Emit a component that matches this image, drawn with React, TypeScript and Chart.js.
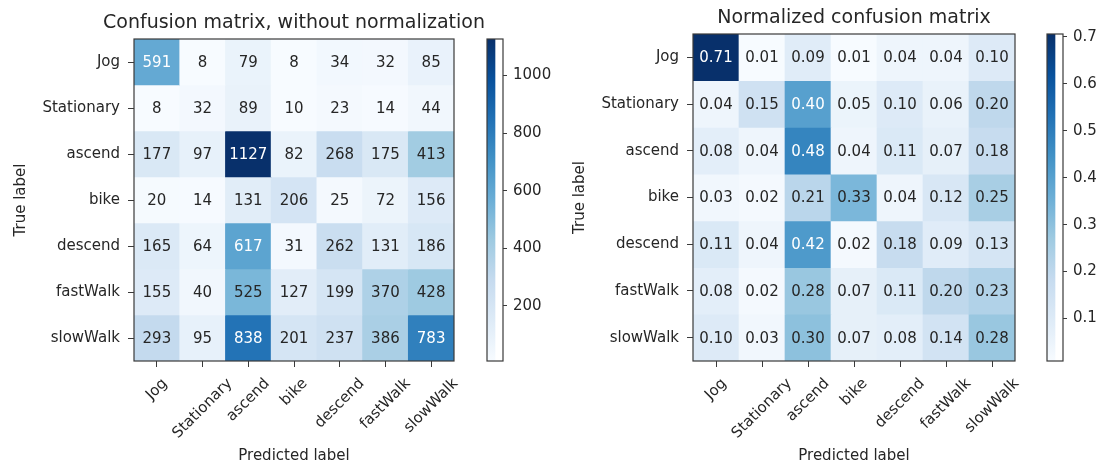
import React, { useEffect, useRef } from 'react';
import { Chart, registerables } from 'chart.js';

Chart.register(...registerables);
Chart.defaults.font.family = '"DejaVu Sans", Verdana, sans-serif';

const classLabels = ['Jog', 'Stationary', 'ascend', 'bike', 'descend', 'fastWalk', 'slowWalk'];

const countJog = [591, 8, 79, 8, 34, 32, 85];
const countStationary = [8, 32, 89, 10, 23, 14, 44];
const countAscend = [177, 97, 1127, 82, 268, 175, 413];
const countBike = [20, 14, 131, 206, 25, 72, 156];
const countDescend = [165, 64, 617, 31, 262, 131, 186];
const countFastWalk = [155, 40, 525, 127, 199, 370, 428];
const countSlowWalk = [293, 95, 838, 201, 237, 386, 783];
const countRows = [countJog, countStationary, countAscend, countBike, countDescend, countFastWalk, countSlowWalk];

const normJog = [0.71, 0.01, 0.09, 0.01, 0.04, 0.04, 0.1];
const normStationary = [0.04, 0.15, 0.4, 0.05, 0.1, 0.06, 0.2];
const normAscend = [0.08, 0.04, 0.48, 0.04, 0.11, 0.07, 0.18];
const normBike = [0.03, 0.02, 0.21, 0.33, 0.04, 0.12, 0.25];
const normDescend = [0.11, 0.04, 0.42, 0.02, 0.18, 0.09, 0.13];
const normFastWalk = [0.08, 0.02, 0.28, 0.07, 0.11, 0.2, 0.23];
const normSlowWalk = [0.1, 0.03, 0.3, 0.07, 0.08, 0.14, 0.28];
const normRows = [normJog, normStationary, normAscend, normBike, normDescend, normFastWalk, normSlowWalk];

const countRange = [8, 1127];
const normRange = [0.0096, 0.706];
const countTicks = [200, 400, 600, 800, 1000];
const normTicks = [0.1, 0.2, 0.3, 0.4, 0.5, 0.6, 0.7];

const BLUES: [number, number, number][] = [
  [247, 251, 255], [222, 235, 247], [198, 219, 239], [158, 202, 225], [107, 174, 214],
  [66, 146, 198], [33, 113, 181], [8, 81, 156], [8, 48, 107],
];

function blues(t: number): string {
  const x = Math.max(0, Math.min(1, t)) * (BLUES.length - 1);
  const i = Math.min(Math.floor(x), BLUES.length - 2);
  const f = x - i;
  const a = BLUES[i], b = BLUES[i + 1];
  const c = a.map((v, k) => Math.round(v + (b[k] - v) * f));
  return `rgb(${c[0]},${c[1]},${c[2]})`;
}

const TEXT = '#262626';
const AXIS = '#3a3a3a';
const TICK_FONT = { size: 15 };

function framePlugin(id: string) {
  return {
    id,
    afterDraw(chart: any) {
      const { ctx, chartArea } = chart;
      ctx.save();
      ctx.strokeStyle = AXIS;
      ctx.lineWidth = 1.2;
      ctx.strokeRect(chartArea.left, chartArea.top, chartArea.right - chartArea.left, chartArea.bottom - chartArea.top);
      ctx.restore();
    },
  };
}

// x tick labels rotated 45° with their bounding box centred on the tick (matplotlib style)
const xLabelPlugin = {
  id: 'xRotatedLabels',
  afterDraw(chart: any) {
    const xs = chart.scales.x;
    const { ctx, chartArea } = chart;
    const labels: string[] = chart.data.labels;
    ctx.save();
    ctx.font = '15px "DejaVu Sans", sans-serif';
    ctx.fillStyle = TEXT;
    ctx.textAlign = 'center';
    ctx.textBaseline = 'middle';
    const h = 15 * 1.17;
    labels.forEach((label, i) => {
      const w = ctx.measureText(label).width;
      const size = (w + h) * Math.SQRT1_2;
      const cx = xs.getPixelForTick(i);
      const cy = chartArea.bottom + 14 + size / 2;
      ctx.save();
      ctx.translate(cx, cy);
      ctx.rotate(-Math.PI / 4);
      ctx.fillText(label, 0, 0);
      ctx.restore();
    });
    ctx.restore();
  },
};

function matrixConfig(rows: number[][], range: number[], fmt: (v: number) => string, title: string, titlePad: { top: number; bottom: number }, yAxisWidth: number, yTitlePad: number, rightSpace: number): any {
  const [lo, hi] = range;
  const thresh = hi / 2;
  const textPlugin = {
    id: 'cellText',
    afterDatasetsDraw(chart: any) {
      const { ctx } = chart;
      ctx.save();
      ctx.font = '15px "DejaVu Sans", sans-serif';
      ctx.textAlign = 'center';
      ctx.textBaseline = 'middle';
      rows.forEach((row, r) => {
        const meta = chart.getDatasetMeta(r);
        const y = chart.scales.y.getPixelForValue(r);
        meta.data.forEach((el: any, c: number) => {
          const v = row[c];
          ctx.fillStyle = v > thresh ? '#ffffff' : TEXT;
          ctx.fillText(fmt(v), el.x, y + 1);
        });
      });
      ctx.restore();
    },
  };
  return {
    type: 'bar',
    data: {
      labels: classLabels,
      datasets: rows.map((row, r) => ({
        label: classLabels[r],
        data: row.map(() => [r - 0.5, r + 0.5]),
        backgroundColor: row.map((v) => blues((v - lo) / (hi - lo))),
        borderWidth: 0,
        grouped: false,
        barPercentage: 1,
        categoryPercentage: 1,
      })),
    },
    options: {
      animation: false,
      responsive: false,
      maintainAspectRatio: false,
      events: [],
      layout: { padding: 0 },
      plugins: {
        legend: { display: false },
        tooltip: { enabled: false },
        title: {
          display: true,
          text: title,
          color: TEXT,
          font: { size: 19, weight: 'normal' },
          padding: titlePad,
        },
      },
      scales: {
        x: {
          type: 'category',
          offset: true,
          grid: { display: true, drawOnChartArea: false, drawTicks: true, tickLength: 6, offset: false, color: AXIS },
          border: { display: false },
          ticks: { display: false, autoSkip: false },
          title: { display: true, text: 'Predicted label', color: TEXT, font: TICK_FONT, padding: { top: 0, bottom: 3 } },
          afterFit: (s: any) => { s.height = 107; },
        },
        y: {
          type: 'linear',
          min: -0.5,
          max: 6.5,
          reverse: true,
          afterBuildTicks: (s: any) => { s.ticks = classLabels.map((_, i) => ({ value: i })); },
          grid: { display: true, drawOnChartArea: false, drawTicks: true, tickLength: 6, color: AXIS },
          border: { display: false },
          ticks: { autoSkip: false, padding: 8, color: TEXT, font: TICK_FONT, callback: (v: any) => classLabels[v as number] },
          title: { display: true, text: 'True label', color: TEXT, font: TICK_FONT, padding: { top: yTitlePad, bottom: 0 } },
          afterFit: (s: any) => { s.width = yAxisWidth; },
        },
        ySpace: {
          type: 'linear',
          position: 'right',
          display: true,
          grid: { display: false, drawTicks: false },
          border: { display: false },
          ticks: { display: false },
          afterFit: (s: any) => { s.width = rightSpace; },
        },
      },
    },
    plugins: [textPlugin, framePlugin('matrixFrame'), xLabelPlugin],
  };
}

function colorbarConfig(range: number[], ticks: number[], fmt: (v: number) => string, padTop: number, axisWidth: number): any {
  return {
    type: 'bar',
    data: {
      labels: [''],
      datasets: [{
        data: [range],
        borderWidth: 0,
        barPercentage: 1,
        categoryPercentage: 1,
        backgroundColor: (context: any) => {
          const { chart } = context;
          const { ctx, chartArea } = chart;
          if (!chartArea) return blues(0.5);
          const g = ctx.createLinearGradient(0, chartArea.bottom, 0, chartArea.top);
          BLUES.forEach((_, i) => g.addColorStop(i / (BLUES.length - 1), blues(i / (BLUES.length - 1))));
          return g;
        },
      }],
    },
    options: {
      animation: false,
      responsive: false,
      maintainAspectRatio: false,
      events: [],
      layout: { padding: { left: 17, right: 0, top: padTop, bottom: 107 } },
      plugins: { legend: { display: false }, tooltip: { enabled: false }, title: { display: false } },
      scales: {
        x: { display: false, offset: false },
        y: {
          type: 'linear',
          position: 'right',
          min: range[0],
          max: range[1],
          afterBuildTicks: (s: any) => { s.ticks = ticks.map((v) => ({ value: v })); },
          grid: { display: true, drawOnChartArea: false, drawTicks: true, tickLength: 4, color: AXIS },
          border: { display: false },
          ticks: { padding: 6, color: TEXT, font: TICK_FONT, callback: (v: any) => fmt(v as number) },
          afterFit: (s: any) => { s.width = axisWidth; },
        },
      },
    },
    plugins: [framePlugin('cbFrame')],
  };
}

function ChartCanvas({ config, left, width }: { config: () => any; left: number; width: number }) {
  const ref = useRef<HTMLCanvasElement | null>(null);
  useEffect(() => {
    if (!ref.current) return;
    const chart = new Chart(ref.current, config());
    return () => chart.destroy();
  }, []);
  return (
    <canvas
      ref={ref}
      width={width}
      height={468}
      style={{ position: 'absolute', left, top: 0, width, height: 468 }}
    />
  );
}

export default function App() {
  return (
    <div style={{ position: 'fixed', left: 0, top: 0, width: 1103, height: 468, background: '#ffffff', overflow: 'hidden' }}>
      <ChartCanvas
        left={0}
        width={588}
        config={() => matrixConfig(countRows, countRange, (v) => String(v), 'Confusion matrix, without normalization', { top: 11.6, bottom: 4.6 }, 134, 12, 134)}
      />
      <ChartCanvas
        left={470}
        width={90}
        config={() => colorbarConfig(countRange, countTicks, (v) => String(v), 39, 57)}
      />
      <ChartCanvas
        left={560}
        width={588}
        config={() => matrixConfig(normRows, normRange, (v) => v.toFixed(2), 'Normalized confusion matrix', { top: 6.6, bottom: 4.6 }, 133, 11, 133)}
      />
      <ChartCanvas
        left={1030}
        width={73}
        config={() => colorbarConfig(normRange, normTicks, (v) => v.toFixed(1), 34, 40)}
      />
    </div>
  );
}
